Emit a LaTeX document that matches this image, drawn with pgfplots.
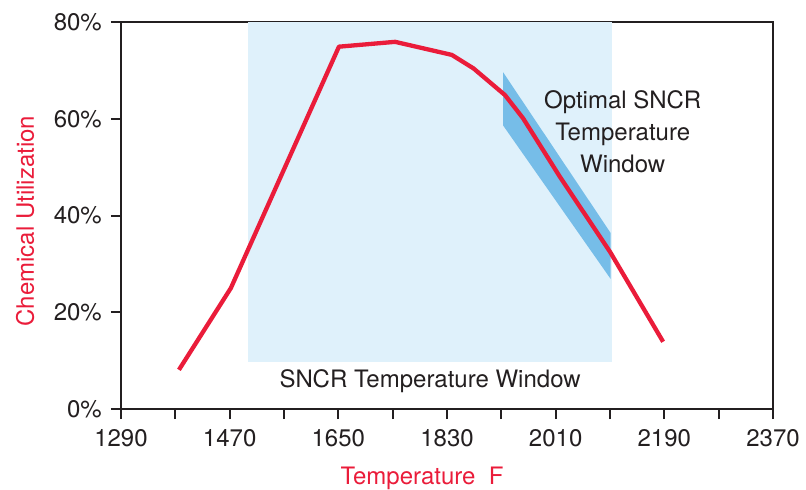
\documentclass[border=0pt]{standalone}
\usepackage{fontspec}
\setmainfont{TeX Gyre Heros}
\usepackage{pgfplots}
\pgfplotsset{compat=1.18}
\definecolor{chred}{RGB}{234,28,58}
\definecolor{winblue}{RGB}{223,241,251}
\definecolor{bandblue}{RGB}{118,189,232}
\definecolor{ink}{RGB}{35,31,32}
\begin{document}
\begin{tikzpicture}
\fontsize{24bp}{31bp}\selectfont
\begin{axis}[
  name=ax,
  scale only axis,
  width=652bp, height=387bp,
  xmin=1290, xmax=2370, ymin=0, ymax=80,
  axis line style={line width=2bp, ink},
  every tick/.style={line width=2bp, ink},
  tick align=outside,
  xtick pos=bottom, ytick pos=left,
  major tick length=10bp,
  xtick={1290,1380,1470,1560,1650,1740,1830,1920,2010,2100,2190,2280,2370},
  xticklabels={1290,,1470,,1650,,1830,,2010,,2190,,2370},
  ytick={0,20,40,60,80},
  yticklabels={0\%,20\%,40\%,60\%,80\%},
  ticklabel style={font=\fontsize{24bp}{28bp}\selectfont, text=ink},
  xticklabel style={yshift=-2bp},
  yticklabel style={xshift=-1bp},
  xlabel={Temperature~~F},
  xlabel style={font=\fontsize{24bp}{28bp}\selectfont, text=chred, at={(axis description cs:0.4617,0)}, anchor=center, yshift=-69bp},
  ylabel={Chemical Utilization},
  ylabel style={font=\fontsize{24bp}{28bp}\selectfont, text=chred, at={(axis description cs:-0.147,0.485)}, anchor=center},
  clip=false,
]
\addplot[fill=winblue, draw=none] coordinates {(1500,9.7) (2104,9.7) (2104,80) (1500,80)} -- cycle;
\addplot[fill=bandblue, draw=none] coordinates {(1923,69.6) (1923,58.6) (2101,26.9) (2101,36.4)} -- cycle;
\addplot[chred, line width=4.3bp, line join=round] coordinates {
  (1386,8.1) (1472,25.0) (1651,74.9) (1744,75.9) (1838,73.2) (1874,70.4)
  (1926,64.9) (1956,60.1) (2017,48.0) (2100,32.5) (2188,13.9)
};
\node[text=ink, align=center, font=\fontsize{24bp}{32bp}\selectfont] at (axis cs:2121,57.3) {Optimal SNCR\\Temperature\\Window};
\node[text=ink, font=\fontsize{24bp}{28bp}\selectfont] at (axis cs:1802,5.8) {SNCR Temperature Window};
\end{axis}
\pgfresetboundingbox
\path ([shift={(-121bp,-81bp)}]ax.south west) rectangle ([shift={(685bp,409bp)}]ax.south west);
\end{tikzpicture}
\end{document}
